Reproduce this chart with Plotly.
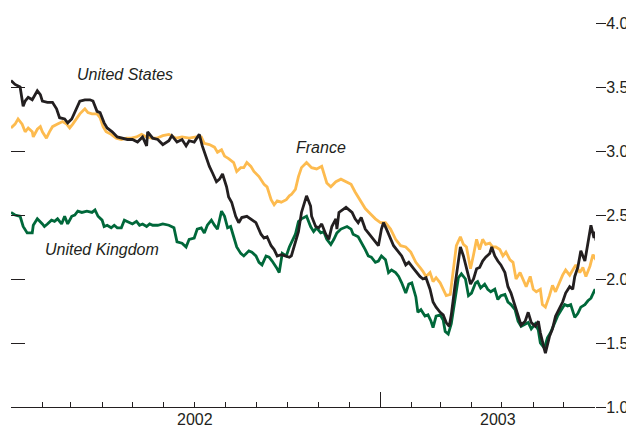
import pandas as pd
import plotly.graph_objects as go

START = "2002-01-01"

us_days = [0,4,9,12,14,17,21,26,29,31,36,41,45,48,53,56,60,65,68,73,78,81,85,88,92,95,100,105,110,115,
           120,125,130,134,135,140,145,150,156,159,164,169,173,176,181,186,189,193,196,199,203,206,209,213,215,218,222,225,228,233,
           237,242,247,250,253,257,260,263,267,272,275,277,281,284,287,292,296,297,301,304,307,311,314,317,321,322,324,327,331,334,
           337,340,343,346,350,353,356,360,363,366,368,371,375,378,383,386,390,393,398,401,404,407,410,414,417,420,424,427,430,433,
           435,439,442,444,447,450,454,457,460,463,466,469,473,475,478,481,484,488,491,494,498,501,504,508,511,514,518,521,523,527,
           528,532,535,538,542,545,548,552,555,557,560,563,567,570,573,576,577,578]
us_vals = [3.55,3.52,3.50,3.35,3.39,3.42,3.40,3.47,3.44,3.39,3.38,3.38,3.33,3.26,3.25,3.22,3.25,3.33,3.39,3.40,
           3.40,3.39,3.31,3.30,3.22,3.18,3.15,3.11,3.10,3.09,3.09,3.07,3.11,3.04,3.15,3.10,3.09,3.05,3.08,3.12,
           3.07,3.09,3.04,3.08,3.07,3.13,3.04,2.94,2.88,2.83,2.76,2.78,2.82,2.72,2.64,2.60,2.49,2.44,2.48,2.49,
           2.47,2.44,2.35,2.32,2.33,2.26,2.23,2.18,2.19,2.18,2.17,2.18,2.29,2.37,2.52,2.65,2.57,2.49,2.41,2.40,
           2.43,2.35,2.31,2.41,2.47,2.39,2.52,2.54,2.56,2.54,2.52,2.47,2.44,2.48,2.39,2.36,2.33,2.29,2.26,2.39,
           2.44,2.39,2.32,2.26,2.21,2.18,2.11,2.13,2.08,2.05,2.02,2.00,2.01,1.92,1.82,1.78,1.74,1.72,1.66,1.63,
           1.72,1.97,2.15,2.25,2.18,2.08,1.96,2.00,2.08,2.09,2.14,2.17,2.20,2.25,2.18,2.14,2.11,2.05,1.94,1.89,
           1.79,1.70,1.64,1.67,1.74,1.66,1.63,1.67,1.58,1.45,1.42,1.55,1.61,1.71,1.78,1.82,1.89,1.94,1.92,2.02,
           2.09,2.22,2.14,2.29,2.42,2.32,2.37,2.30]

fr_days = [0,4,7,11,14,17,21,22,26,29,31,35,38,41,46,51,55,58,61,65,68,73,76,80,85,88,91,94,99,104,
           109,114,119,124,129,134,139,144,150,156,163,169,176,183,188,191,196,201,204,208,211,215,220,223,227,230,233,237,240,245,
           250,253,257,260,263,267,272,275,277,281,284,287,292,297,302,307,312,316,321,326,331,336,340,345,350,355,360,365,370,375,
           380,385,390,395,400,404,407,410,414,417,420,424,427,430,434,437,440,444,447,450,454,457,460,463,466,469,473,476,479,483,
           486,489,493,496,499,503,506,509,513,516,519,523,525,528,532,535,538,542,545,548,552,555,558,562,565,568,572,575,578]
fr_vals = [3.18,3.21,3.25,3.21,3.15,3.18,3.15,3.11,3.17,3.19,3.15,3.10,3.15,3.19,3.21,3.23,3.21,3.18,3.21,3.26,
           3.29,3.33,3.30,3.29,3.29,3.26,3.19,3.15,3.13,3.10,3.09,3.10,3.10,3.11,3.13,3.11,3.10,3.10,3.12,3.13,
           3.10,3.11,3.10,3.11,3.11,3.06,3.05,3.03,2.99,3.01,2.96,2.94,2.91,2.84,2.87,2.87,2.91,2.88,2.84,2.80,
           2.74,2.72,2.62,2.58,2.61,2.60,2.62,2.65,2.66,2.70,2.80,2.87,2.91,2.87,2.86,2.88,2.75,2.72,2.76,2.78,
           2.76,2.74,2.68,2.61,2.55,2.51,2.47,2.44,2.44,2.39,2.31,2.26,2.25,2.21,2.13,2.09,2.06,2.02,2.05,1.98,
           2.01,1.97,1.92,1.87,1.88,2.08,2.26,2.33,2.27,2.25,2.08,2.19,2.31,2.23,2.31,2.27,2.28,2.25,2.25,2.23,
           2.18,2.21,2.15,2.13,2.00,2.05,2.00,1.94,2.02,1.92,1.90,1.92,1.80,1.78,1.87,1.95,1.90,1.98,2.03,2.07,
           2.03,2.07,2.11,2.05,2.09,2.02,2.10,2.19,2.15]

uk_days = [0,4,9,12,16,21,22,26,31,33,36,40,43,46,50,53,56,60,63,66,70,75,80,83,86,90,92,95,99,102,
           105,109,112,115,120,124,127,130,134,137,140,145,150,156,161,164,169,173,176,181,184,188,191,194,198,201,204,208,211,214,
           217,220,223,227,230,235,238,242,245,248,252,255,258,263,265,268,272,275,277,281,284,287,292,296,299,302,306,309,312,316,
           319,322,326,329,332,336,338,343,346,350,353,356,360,363,366,370,373,376,380,383,386,390,393,396,400,402,405,409,412,415,
           417,420,424,427,429,432,435,439,442,445,449,452,455,459,461,464,468,471,474,478,481,484,488,491,494,498,501,504,508,511,
           514,518,521,523,527,530,533,537,540,543,547,550,553,557,560,563,567,570,573,577,578]
uk_vals = [2.52,2.50,2.49,2.41,2.36,2.36,2.42,2.47,2.43,2.41,2.43,2.46,2.45,2.47,2.43,2.49,2.43,2.49,2.50,2.53,
           2.52,2.53,2.52,2.54,2.49,2.46,2.41,2.42,2.40,2.42,2.40,2.40,2.46,2.45,2.43,2.45,2.42,2.43,2.41,2.43,
           2.42,2.42,2.43,2.42,2.40,2.29,2.28,2.25,2.31,2.32,2.39,2.40,2.36,2.42,2.46,2.42,2.39,2.53,2.49,2.40,
           2.41,2.33,2.25,2.20,2.18,2.22,2.21,2.18,2.13,2.11,2.18,2.17,2.14,2.08,2.05,2.20,2.18,2.25,2.28,2.35,
           2.45,2.47,2.49,2.41,2.37,2.40,2.36,2.37,2.31,2.27,2.31,2.36,2.39,2.40,2.41,2.39,2.35,2.33,2.29,2.23,
           2.18,2.17,2.13,2.14,2.18,2.15,2.05,2.07,2.05,2.02,1.97,1.89,1.96,1.97,1.86,1.74,1.76,1.71,1.72,1.67,
           1.62,1.71,1.72,1.68,1.59,1.57,1.65,1.86,2.01,2.04,2.00,1.87,1.89,1.97,1.98,1.93,1.96,1.92,1.90,1.92,
           1.84,1.87,1.88,1.82,1.80,1.76,1.67,1.63,1.65,1.66,1.61,1.65,1.60,1.50,1.46,1.54,1.58,1.66,1.71,1.75,
           1.80,1.79,1.80,1.70,1.73,1.78,1.80,1.83,1.85,1.92,1.89]

assert len(us_days) == len(us_vals), (len(us_days), len(us_vals))
assert len(fr_days) == len(fr_vals), (len(fr_days), len(fr_vals))
assert len(uk_days) == len(uk_vals), (len(uk_days), len(uk_vals))

y_ticks = [1.0, 1.5, 2.0, 2.5, 3.0, 3.5, 4.0]
year_labels = ["2002", "2003"]
year_label_dates = ["2002-07-02", "2003-04-27"]


def to_dates(days):
    return pd.Timestamp(START) + pd.to_timedelta(days, unit="D")


TXT = "#231f20"
C_US = "#231f20"
C_FR = "#fdbb4f"
C_UK = "#00683a"
FONT = "Liberation Sans, Arial, sans-serif"

fig = go.Figure()
fig.add_trace(go.Scatter(x=to_dates(fr_days), y=fr_vals, mode="lines", name="France",
                         line=dict(color=C_FR, width=2.8)))
fig.add_trace(go.Scatter(x=to_dates(uk_days), y=uk_vals, mode="lines", name="United Kingdom",
                         line=dict(color=C_UK, width=2.8)))
fig.add_trace(go.Scatter(x=to_dates(us_days), y=us_vals, mode="lines", name="United States",
                         line=dict(color=C_US, width=2.8)))
# invisible trace to drive left tick marks
fig.add_trace(go.Scatter(x=[START], y=[None], yaxis="y2", showlegend=False, hoverinfo="skip"))

# the page adds an 8px body margin, so the figure is sized to fit inside it
fig.update_layout(
    width=626, height=421,
    margin=dict(l=3, r=39, t=15, b=22, autoexpand=False),
    paper_bgcolor="white", plot_bgcolor="white",
    showlegend=False,
    font=dict(family=FONT, size=16, color=TXT),
    xaxis=dict(
        range=["2002-01-01", "2003-08-01"], automargin=False,
        showgrid=False, zeroline=False,
        showline=True, linecolor=TXT, linewidth=1.3,
        ticks="inside", tickmode="linear", tick0="2002-01-01", dtick="M12",
        ticklen=15, tickwidth=1.3, tickcolor=TXT,
        showticklabels=False,
        minor=dict(ticks="inside", dtick="M1", tick0="2002-01-01", ticklen=5,
                   tickwidth=1.3, tickcolor=TXT, showgrid=False),
    ),
    yaxis=dict(
        range=[1, 4], side="right", automargin=False,
        showgrid=False, zeroline=False, showline=False,
        tickmode="array", tickvals=y_ticks, ticktext=[f"{v:.1f}" for v in y_ticks],
        ticks="outside", ticklen=10, tickwidth=1.3, tickcolor=TXT,
        ticklabelstandoff=-3,
        tickfont=dict(family=FONT, size=16, color=TXT),
    ),
    yaxis2=dict(
        range=[1, 4], side="left", overlaying="y", automargin=False,
        showgrid=False, zeroline=False, showline=False,
        tickmode="array", tickvals=y_ticks[1:],
        ticks="inside", ticklen=14, tickwidth=1.3, tickcolor=TXT,
        showticklabels=False,
    ),
)

for lab, d in zip(year_labels, year_label_dates):
    fig.add_annotation(x=d, y=0, xref="x", yref="paper", text=lab, showarrow=False,
                       yanchor="top", yshift=-2, font=dict(family=FONT, size=16, color=TXT))

series_labels = [("United States", "2002-04-24", 3.60),
                 ("France", "2002-11-03", 3.03),
                 ("United Kingdom", "2002-04-01", 2.23)]
for lab, d, v in series_labels:
    fig.add_annotation(x=d, y=v, xref="x", yref="y", text=lab, showarrow=False,
                       font=dict(family=FONT, size=16, color=TXT, style="italic"))

fig.write_html("out.html")
